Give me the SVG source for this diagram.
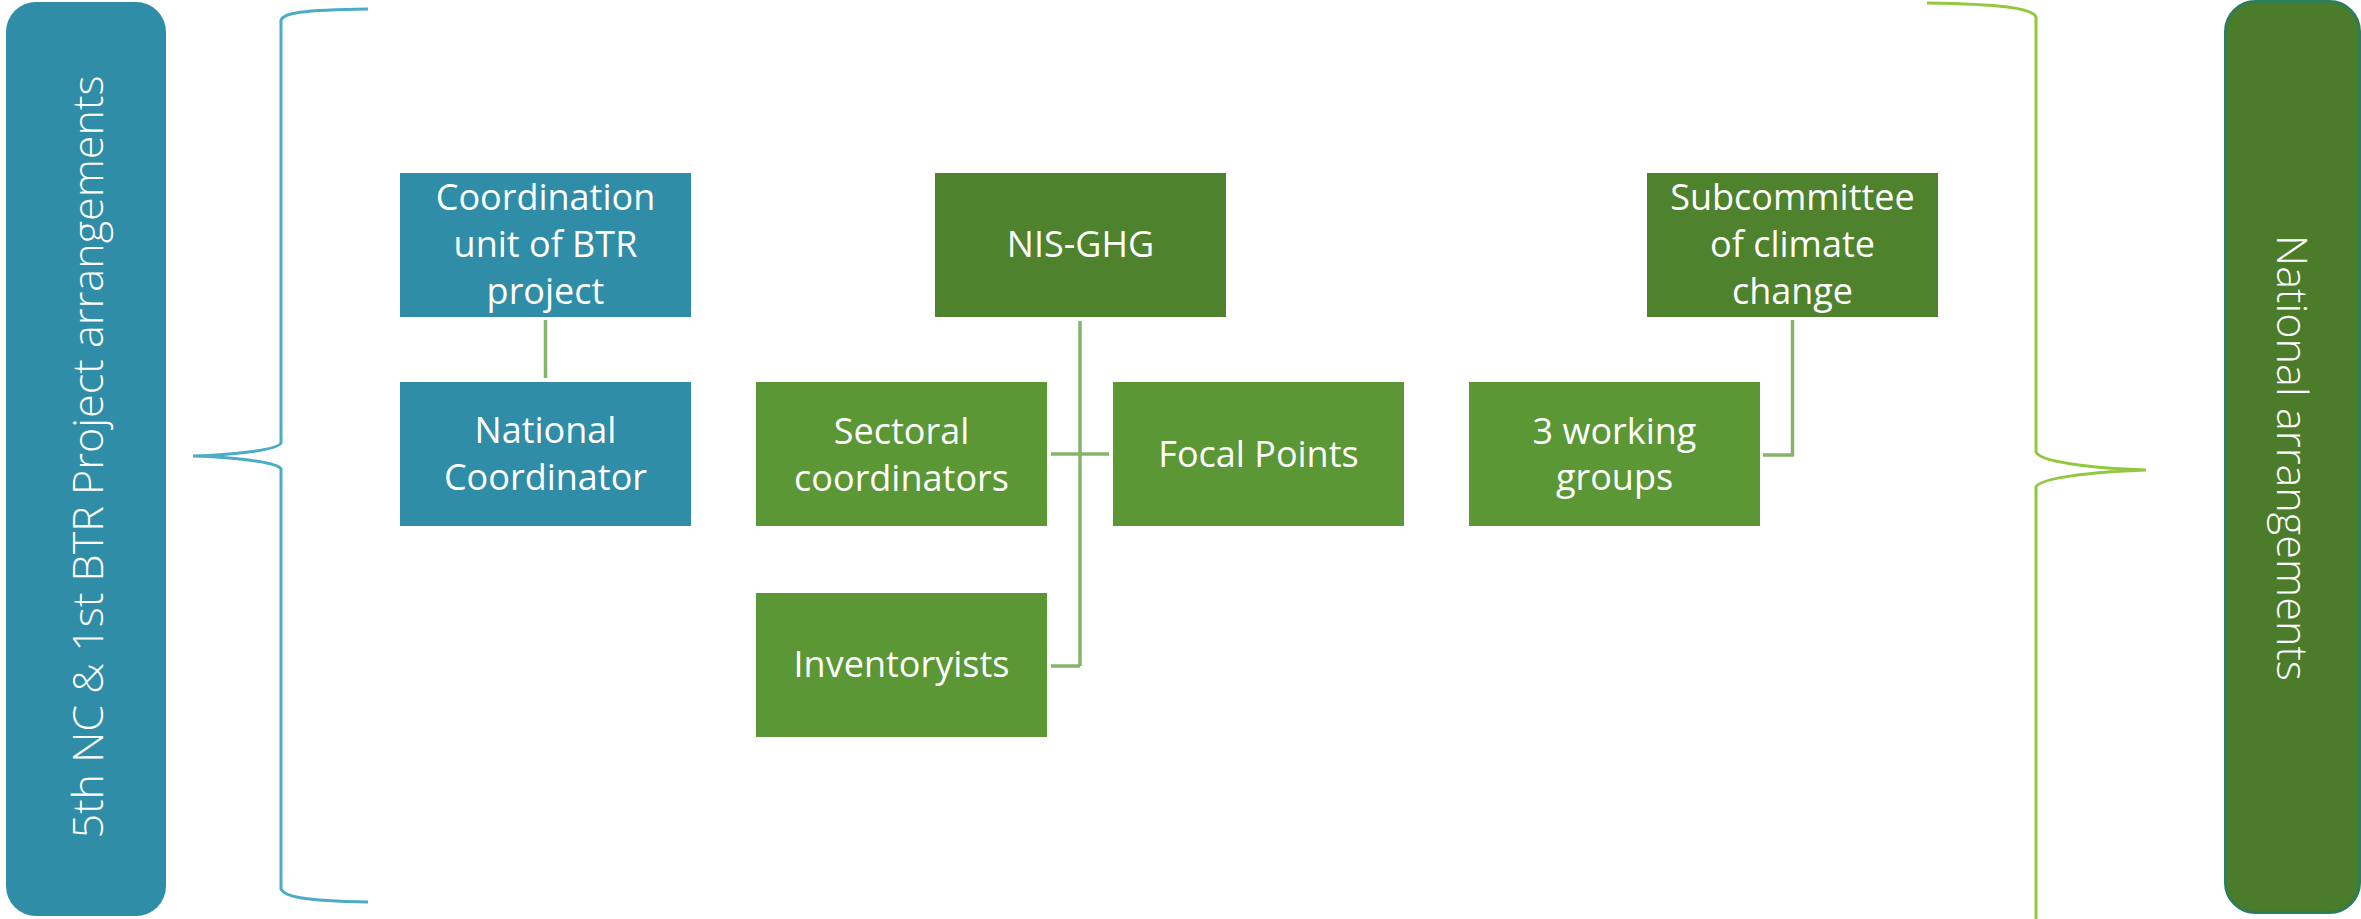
<svg xmlns="http://www.w3.org/2000/svg" width="2361" height="919" viewBox="0 0 2361 919">
<style>
.lbl{font-family:"Open Sans","Liberation Sans",sans-serif;font-size:36px;fill:#ffffff;text-anchor:middle}
.side{font-family:"Open Sans","Liberation Sans",sans-serif;font-size:43px;font-weight:300;fill:#ffffff;text-anchor:middle}
.teal{fill:#2F8DA7}
.dark{fill:#4E822D}
.light{fill:#5B9734}
.conn{fill:none;stroke:#84B56A;stroke-width:3.5}
</style>
<rect width="2361" height="919" fill="#ffffff"/>
<g id="panel-left">
<rect x="6" y="2" width="160" height="914" rx="30" ry="30" fill="#2F8DA7"/>
<text class="side" transform="translate(103,457) rotate(-90)" textLength="763" lengthAdjust="spacingAndGlyphs">5th NC &amp; 1st BTR Project arrangements</text>
</g>
<g id="panel-right">
<rect x="2225.5" y="1.5" width="134" height="911" rx="30" ry="30" fill="#4A7C2A" stroke="#2E7D5A" stroke-width="3"/>
<text class="side" transform="translate(2277,458) rotate(90)" textLength="446" lengthAdjust="spacingAndGlyphs">National arrangements</text>
</g>
<g id="brace-left">
<path d="M368,9 C300,10 284,13 281,20 L281,443 C278,450 232,455 193,456 C232,457 278,462 281,469 L281,889 C284,896 300,901 368,902" fill="none" stroke="#4BACC6" stroke-width="3"/>
</g>
<g id="brace-right">
<path d="M1927,3 C2000,4 2032,8 2036,17 L2036,452 C2040,462 2090,468 2146,470 C2090,472 2040,478 2036,487 L2036,919" fill="none" stroke="#92C83E" stroke-width="3"/>
</g>
<g id="connectors">
<line class="conn" x1="545.5" y1="320" x2="545.5" y2="378"/>
<line class="conn" x1="1080" y1="321" x2="1080" y2="666"/>
<line class="conn" x1="1051" y1="454" x2="1109" y2="454"/>
<polyline class="conn" points="1051,666 1080,666"/>
<polyline class="conn" points="1792.5,320 1792.5,455 1763,455"/>
</g>
<g id="node-coord-unit">
<rect class="teal" x="400" y="173" width="291" height="144"/>
<text class="lbl"><tspan x="545.5" y="210">Coordination</tspan><tspan x="545.5" y="257">unit of BTR</tspan><tspan x="545.5" y="304">project</tspan></text>
</g>
<g id="node-national-coordinator">
<rect class="teal" x="400" y="382" width="291" height="144"/>
<text class="lbl"><tspan x="545.5" y="443">National</tspan><tspan x="545.5" y="490">Coordinator</tspan></text>
</g>
<g id="node-nis-ghg">
<rect class="dark" x="935" y="173" width="291" height="144"/>
<text class="lbl" x="1080.5" y="257">NIS-GHG</text>
</g>
<g id="node-sectoral">
<rect class="light" x="756" y="382" width="291" height="144"/>
<text class="lbl"><tspan x="901.5" y="444">Sectoral</tspan><tspan x="901.5" y="491">coordinators</tspan></text>
</g>
<g id="node-focal">
<rect class="light" x="1113" y="382" width="291" height="144"/>
<text class="lbl" x="1258.5" y="467">Focal Points</text>
</g>
<g id="node-inventoryists">
<rect class="light" x="756" y="593" width="291" height="144"/>
<text class="lbl" x="901.5" y="677">Inventoryists</text>
</g>
<g id="node-subcommittee">
<rect class="dark" x="1647" y="173" width="291" height="144"/>
<text class="lbl"><tspan x="1792.5" y="210">Subcommittee</tspan><tspan x="1792.5" y="257">of climate</tspan><tspan x="1792.5" y="304">change</tspan></text>
</g>
<g id="node-working-groups">
<rect class="light" x="1469" y="382" width="291" height="144"/>
<text class="lbl"><tspan x="1614.5" y="444">3 working</tspan><tspan x="1614.5" y="490">groups</tspan></text>
</g>
</svg>
